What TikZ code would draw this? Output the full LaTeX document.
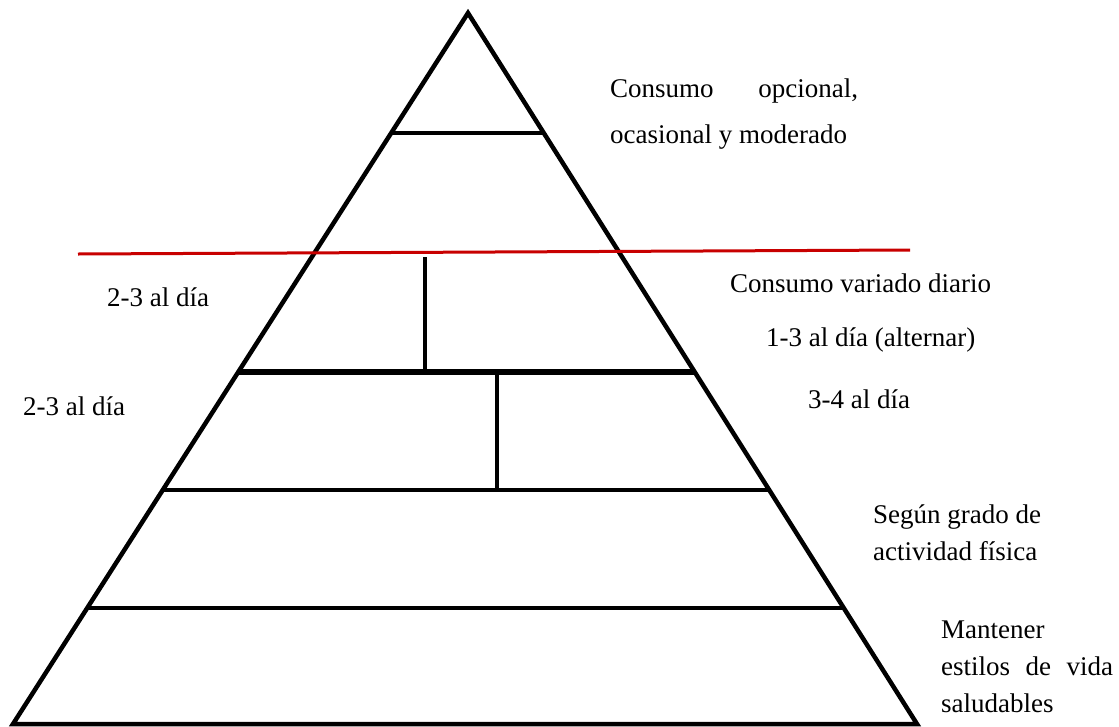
\documentclass[tikz,border=0pt]{standalone}
\usepackage{fontspec}
\setmainfont{Liberation Serif}
\usetikzlibrary{calc}
\definecolor{cutred}{RGB}{200,0,0}

\begin{document}
\begin{tikzpicture}[
        x=1pt, y=-1pt,
        tier/.style={line width=4.5pt},
        divider/.style={line width=3pt, draw=cutred},
        note/.style={anchor=base west, inner sep=0pt, align=left, font=\rmfamily\fontsize{27}{37}\selectfont}
    ]
        \useasboundingbox (0,0) rectangle (1119,726);

        % Pyramid
        \coordinate (A) at (468,13);
        \coordinate (BL) at (13,724);
        \coordinate (BR) at (917,724);
        \draw[tier, line join=miter] (A) -- (BL) -- (BR) -- cycle;

        % Levels
        \coordinate (L1) at ($(A)!0.1688!(BL)$); \coordinate (R1) at ($(A)!0.1688!(BR)$);
        \coordinate (L2) at ($(A)!0.5049!(BL)$); \coordinate (R2) at ($(A)!0.5049!(BR)$);
        \coordinate (L3) at ($(A)!0.6709!(BL)$); \coordinate (R3) at ($(A)!0.6709!(BR)$);
        \coordinate (L4) at ($(A)!0.8368!(BL)$); \coordinate (R4) at ($(A)!0.8368!(BR)$);
        \draw[tier] (L1) -- (R1);
        \draw[tier, line width=5.5pt] (L2) -- (R2);
        \draw[tier] (L3) -- (R3);
        \draw[tier] (L4) -- (R4);

        % Splits
        \coordinate (V1) at (425,257);
        \coordinate (V2) at (497,372);
        \draw[tier, line width=4pt] (V1) -- (V1 |- L2);
        \draw[tier, line width=4pt] (V2) -- (V2 |- L3);

        % Red line
        \coordinate (redL) at (78,254);
        \coordinate (redR) at (910,250);
        \draw[divider] (redL) -- (redR);

        % Labels (base = last line)
        \node[note] (opc) at (610,143) {\makebox[248pt][s]{Consumo opcional,}\\[9pt]ocasional y moderado};
        \node[note] (var) at (730,292) {Consumo variado diario};
        \node[note] (alt) at (766,346) {1-3 al día (alternar)};
        \node[note] (d34) at (808,408) {3-4 al día};
        \node[note] (d23a) at (107,306) {2-3 al día};
        \node[note] (d23b) at (23,415) {2-3 al día};
        \node[note] (fis) at (873,560) {Según grado de\\actividad física};
        \node[note] (vida) at (941,712) {Mantener\\\makebox[172pt][s]{estilos de vida}\\saludables};

    \end{tikzpicture}
\end{document}
